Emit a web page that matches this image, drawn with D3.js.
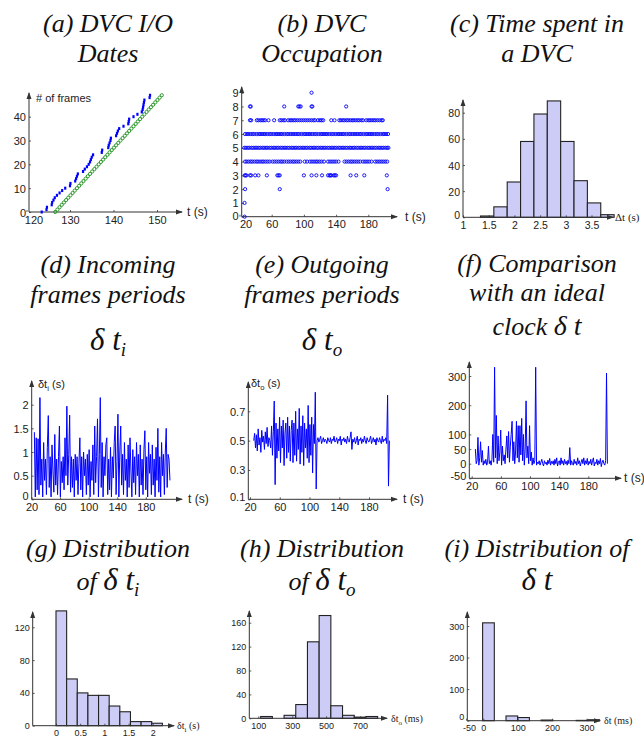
<!DOCTYPE html>
<html>
<head>
<meta charset="utf-8">
<script src="https://cdn.jsdelivr.net/npm/d3@7/dist/d3.min.js"></script>
<style>
  body { margin: 0; background: #fff; }
</style>
</head>
<body>
<div id="chart"></div>
<script>
// ---------- data ----------
// (a) frame dates: frame index = position in array
const incomingDates = [123.5, 124.6, 124.7, 125.8, 125.9, 126.2, 126.5, 127.0, 127.6, 128.2,
  128.9, 130.0, 130.1, 131.2, 131.4, 131.6, 131.8, 133.0, 133.4, 133.9,
  134.3, 134.6, 134.8, 135.0, 135.3, 137.3, 137.4, 138.8, 138.9, 139.1,
  139.3, 139.4, 140.6, 140.8, 141.0, 141.3, 142.3, 143.4, 143.5, 143.6,
  144.6, 145.5, 146.5, 146.7, 146.8, 146.9, 147.0, 147.1, 148.3, 148.4];
const outgoingDates = [126.6, 127.1, 127.6, 128.1, 128.6, 129.1, 129.6, 130.1, 130.6, 131.1,
  131.6, 132.1, 132.6, 133.1, 133.6, 134.1, 134.6, 135.1, 135.6, 136.1,
  136.6, 137.1, 137.6, 138.1, 138.6, 139.1, 139.6, 140.1, 140.6, 141.1,
  141.6, 142.1, 142.6, 143.1, 143.6, 144.1, 144.6, 145.1, 145.6, 146.1,
  146.6, 147.1, 147.6, 148.1, 148.6, 149.1, 149.6, 150.1, 150.6, 151.1];

// (b) occupation: times (s) at which each level was observed
const occLevels = [0, 1, 2, 3, 4, 5, 6, 7, 8, 9];
const occTimes = [
  [26.3],
  [26.3],
  [27, 70, 204],
  [26.5, 27.5, 28.5, 33, 34.5, 39.5, 43.5, 54, 67, 68.5, 70, 100, 109.5, 115.5, 122.5, 130, 132, 133, 134,
   137, 138.5, 140, 158, 165, 175, 203],
  [27, 29, 31.5, 34, 36, 38.5, 41, 43, 45.5, 48, 50, 52.5, 55, 57.5, 61, 63.5, 66, 68.5, 71, 73, 75.5,
   78.5, 81, 83.5, 86, 88, 90.5, 93, 95.5, 101, 104, 107.5, 110, 112.5, 115, 117, 119.5, 122, 125, 130,
   132.5, 135, 137.5, 140, 143, 150.5, 153, 155.5, 158, 160, 162.5, 165, 167.5, 170, 173.5, 176, 178.5,
   181, 184, 188.5, 191, 193.5, 196, 198.5, 201, 203.5],
  [26, 28, 30.5, 32.5, 35, 37, 39.5, 41.5, 44, 46, 48.5, 50.5, 53, 55, 57.5, 59.5, 62, 64, 66.5, 68.5,
   71, 73, 75.5, 77.5, 80, 82, 84.5, 86.5, 89, 91, 93.5, 95.5, 98, 100, 102.5, 104.5, 107, 109, 111.5,
   113.5, 116, 118, 120.5, 122.5, 125, 127, 129.5, 131.5, 134, 136, 138.5, 140.5, 143, 145, 147.5, 149.5,
   152, 154, 156.5, 158.5, 161, 163, 165.5, 167.5, 170, 172, 174.5, 176.5, 179, 181, 183.5, 185.5, 188,
   190, 192.5, 194.5, 197, 199, 201.5, 203.5, 205],
  [27, 29.5, 31.5, 34, 36.5, 38.5, 41, 43.5, 45.5, 48, 50.5, 52.5, 55, 57.5, 59.5, 62, 64.5, 66.5, 69,
   71.5, 73.5, 76, 78.5, 80.5, 83, 85.5, 87.5, 90, 92.5, 94.5, 97, 99.5, 101.5, 104, 106.5, 108.5, 111,
   113.5, 115.5, 118, 120.5, 122.5, 125, 127.5, 129.5, 132, 134.5, 136.5, 139, 141.5, 143.5, 146, 148.5,
   150.5, 153, 155.5, 157.5, 160, 162.5, 164.5, 167, 169.5, 171.5, 174, 176.5, 178.5, 181, 183.5, 185.5,
   188, 190.5, 192.5, 195, 197.5, 199.5, 202, 204.5],
  [33, 34.5, 41.5, 43.5, 46, 48, 50, 52, 56, 63, 70, 72, 74.5, 76.5, 80.5, 83, 85, 87.5, 89.5, 92, 94.5,
   97, 99.5, 102, 104.5, 107, 109.5, 112, 114, 117.5, 120, 122, 124, 134, 138, 144, 146, 148.5, 150.5,
   153, 155, 157.5, 160, 162, 164.5, 167, 169, 171.5, 173.5, 177.5, 180, 182, 184.5, 187, 189, 191.5,
   194, 196.5, 198],
  [33, 34, 75.5, 93, 94.5, 96, 109.5, 110.5, 152.5],
  [109.5]
];

// (c) time spent in a DVC histogram
const stayEdges = [1.34, 1.60, 1.86, 2.12, 2.38, 2.64, 2.90, 3.16, 3.42, 3.68, 3.94];
const stayCounts = [1, 8, 27, 58, 79, 89, 58, 28, 11, 2];

// (d) incoming periods (s), sampled from t = 24 s every 1.3 s
const inStart = 24, inStep = 1.3;
const inPeriods = [1.42, 0.05, 1.30, 0.20, 1.28, 0.10, 2.15, 0.30, 0.85, 0.05,
  1.20, 0.40, 0.85, 0.10, 1.10, 1.77, 0.25, 0.90, 0.05, 1.15,
  0.60, 0.15, 1.37, 0.30, 0.85, 0.10, 0.90, 1.55, 0.05, 0.80,
  0.35, 0.90, 0.20, 1.30, 0.50, 1.97, 0.30, 0.95, 1.78, 0.15,
  0.90, 0.25, 0.85, 0.05, 0.95, 0.40, 0.90, 0.10, 0.75, 1.30,
  0.20, 0.90, 0.05, 1.00, 0.50, 0.85, 0.10, 0.95, 0.30, 1.05,
  0.05, 0.80, 0.40, 1.15, 0.10, 1.55, 0.35, 0.90, 1.70, 0.05,
  0.95, 2.15, 0.25, 1.20, 0.05, 0.90, 0.50, 1.15, 1.30, 0.10,
  0.85, 0.20, 1.10, 0.05, 0.90, 0.45, 1.20, 1.55, 0.10, 0.80,
  1.80, 0.05, 1.00, 1.55, 0.30, 0.95, 0.10, 1.20, 0.40, 0.85,
  0.05, 1.15, 0.25, 1.30, 0.60, 0.05, 1.05, 0.35, 0.90, 0.10,
  1.20, 0.50, 0.95, 0.05, 1.15, 0.30, 0.85, 0.10, 1.05, 1.45,
  0.20, 0.90, 0.05, 1.20, 0.55, 0.95, 0.10, 1.15, 0.30, 0.85,
  0.05, 1.10, 0.40, 1.50, 0.15, 0.90, 0.05, 1.20, 0.50, 0.95,
  0.10, 1.00, 1.50, 0.25, 0.95, 0.85, 0.40];

// (e) outgoing periods (s), sampled from t = 25 s every 1.2 s
const outStart = 25, outStep = 1.2;
const outPeriods = [0.50, 0.55, 0.45, 0.54, 0.43, 0.58, 0.47, 0.52, 0.42, 0.57,
  0.49, 0.53, 0.44, 0.56, 0.48, 0.59, 0.46, 0.52, 0.50, 0.45,
  0.60, 0.40, 0.56, 0.77, 0.20, 0.62, 0.38, 0.58, 0.43, 0.66,
  0.35, 0.60, 0.45, 0.64, 0.33, 0.55, 0.62, 0.38, 0.66, 0.42,
  0.60, 0.36, 0.57, 0.64, 0.35, 0.62, 0.40, 0.70, 0.36, 0.58,
  0.44, 0.72, 0.34, 0.60, 0.42, 0.67, 0.33, 0.62, 0.45, 0.58,
  0.38, 0.74, 0.35, 0.61, 0.40, 0.66, 0.28, 0.61, 0.48, 0.83,
  0.17, 0.50, 0.52, 0.49, 0.51, 0.53, 0.48, 0.50, 0.52, 0.49,
  0.51, 0.50, 0.48, 0.52, 0.50, 0.49, 0.52, 0.48, 0.51, 0.50,
  0.53, 0.49, 0.50, 0.52, 0.48, 0.51, 0.50, 0.53, 0.47, 0.51,
  0.50, 0.52, 0.49, 0.51, 0.48, 0.53, 0.50, 0.49, 0.52, 0.56,
  0.44, 0.51, 0.49, 0.52, 0.48, 0.50, 0.53, 0.47, 0.51, 0.50,
  0.52, 0.48, 0.51, 0.49, 0.53, 0.50, 0.48, 0.52, 0.50, 0.49,
  0.51, 0.53, 0.48, 0.50, 0.52, 0.49, 0.51, 0.47, 0.52, 0.50,
  0.49, 0.52, 0.50, 0.48, 0.53, 0.49, 0.51, 0.50, 0.52, 0.48,
  0.81, 0.19, 0.50];

// (f) gap to an ideal clock (ms), sampled from t = 25 s every 1.2 s
const clkStart = 25, clkStep = 1.2;
const clockGap = [50, 0, 10, 90, -5, 20, 75, 5, 45, -5,
  10, 0, 15, -5, 5, 60, 0, 10, -5, 15,
  100, 5, 330, 20, 165, 0, 95, 10, 40, 115,
  -5, 60, 10, 30, 0, 50, 95, 20, 110, 5,
  60, 100, 145, 10, 75, 0, 40, 145, 20, 130,
  5, 130, 30, 155, 10, 100, -5, 50, 215, 20,
  60, 0, 130, 10, 40, -5, 20, 0, 10, 330,
  -5, 5, 0, 10, -5, 5, 15, 0, -8, 10,
  0, 5, -5, 12, 0, 18, -5, 8, 0, 10,
  -5, 15, 0, 20, -8, 5, 10, -5, 20, 0,
  10, -5, 15, 0, 8, -5, 12, 0, 55, -5,
  10, 0, -5, 15, 0, 8, -5, 20, 0, 10,
  -8, 5, 15, 0, 20, -5, 10, 0, 18, -5,
  8, 0, 15, -5, 10, 20, -8, 5, 0, 15,
  -5, 10, 0, 18, -10, 5, 12, 0, -5, 10,
  310, 0];

// (g) distribution of incoming periods (s)
const inHistEdges = [0, 0.22, 0.44, 0.66, 0.88, 1.10, 1.32, 1.54, 1.76, 1.98, 2.20];
const inHistCounts = [140, 57, 40, 37, 37, 24, 17, 5, 5, 3];

// (h) distribution of outgoing periods (ms)
const outHistEdges = [114, 183, 252, 321, 390, 459, 528, 597, 666, 735, 804];
const outHistCounts = [3, 0, 5, 23, 128, 172, 21, 5, 2, 3];

// (i) distribution of clock gap (ms)
const clkHistEdges = [-2, 32, 66, 100, 134, 168, 202, 236, 270, 304, 338];
const clkHistCounts = [310, 0, 15, 10, 0, 2, 0, 0, 1, 3];

// tick labels
const ticksA = { x: [120, 130, 140, 150], y: [0, 10, 20, 30, 40] };
const ticksB = { x: [20, 60, 100, 140, 180], y: [0, 1, 2, 3, 4, 5, 6, 7, 8, 9] };
const ticksC = { x: [1, 1.5, 2, 2.5, 3, 3.5], y: [0, 20, 40, 60, 80] };
const ticksD = { x: [20, 60, 100, 140, 180], y: [0, 0.5, 1, 1.5, 2] };
const ticksE = { x: [20, 60, 100, 140, 180], y: [0.1, 0.3, 0.5, 0.7] };
const ticksF = { x: [20, 60, 100, 140, 180], y: [-50, 0, 50, 100, 200, 300] };
const ticksG = { x: [0, 0.5, 1, 1.5, 2], y: [0, 40, 80, 120] };
const ticksH = { x: [100, 300, 500, 700], y: [0, 40, 80, 120, 160] };
const ticksI = { x: [-50, 0, 100, 200, 300], y: [0, 100, 200, 300] };

// ---------- drawing ----------
const BLUE = "#0000ff";
const BAR_FILL = "#ccccf7";
const AXIS = "#333";
const SANS = "'Liberation Sans', Arial, sans-serif";
const SERIF = "'Liberation Serif', 'Times New Roman', serif";

const svg = d3.select("#chart").append("svg")
  .attr("width", 644).attr("height", 742)
  .style("background", "#fff");

svg.append("defs").append("marker")
  .attr("id", "arrow")
  .attr("viewBox", "0 -3 7 6")
  .attr("refX", 6).attr("refY", 0)
  .attr("markerWidth", 7).attr("markerHeight", 6)
  .attr("markerUnits", "userSpaceOnUse")
  .attr("orient", "auto")
  .append("path").attr("d", "M0,-2.5L7,0L0,2.5Z").attr("fill", AXIS);

// axes with arrows, small inner ticks
function drawAxes(p) {
  const g = svg.append("g");
  g.append("line")
    .attr("x1", p.ox).attr("y1", p.oy).attr("x2", p.xEnd).attr("y2", p.oy)
    .attr("stroke", AXIS).attr("stroke-width", 1).attr("marker-end", "url(#arrow)");
  g.append("line")
    .attr("x1", p.ox).attr("y1", p.oy).attr("x2", p.ox).attr("y2", p.yTop)
    .attr("stroke", AXIS).attr("stroke-width", 1).attr("marker-end", "url(#arrow)");

  const xa = g.append("g").attr("transform", `translate(0,${p.oy})`)
    .call(d3.axisBottom(p.x).tickValues(p.ticks.x).tickSize(-2).tickPadding(4).tickFormat(d => String(d)));
  const ya = g.append("g").attr("transform", `translate(${p.ox},0)`)
    .call(d3.axisLeft(p.y).tickValues(p.ticks.y).tickSize(-2).tickPadding(3).tickFormat(d => String(d)));
  [xa, ya].forEach(a => {
    a.select(".domain").remove();
    a.selectAll(".tick line").attr("stroke", AXIS).attr("stroke-width", 0.8);
    a.selectAll(".tick text").attr("fill", "#222")
      .style("font-family", SANS).style("font-size", p.font + "px");
  });
  // nudge labels that would collide at the origin
  const nx = p.nudgeX || {}, ny = p.nudgeY || {};
  xa.selectAll(".tick text").attr("dx", d => nx[d] || 0);
  ya.selectAll(".tick text").attr("dy", d => (ny[d] !== undefined ? ny[d] : 0) + "px")
    .attr("y", 0).attr("dominant-baseline", "central");
  return g;
}

// label with delta-t and optional subscript
function deltaLabel(x, y, sub, unit, size, family) {
  const t = svg.append("text").attr("x", x).attr("y", y)
    .attr("fill", "#222").style("font-family", family).style("font-size", size + "px");
  t.append("tspan").text("δt");
  if (sub) t.append("tspan").attr("dy", size * 0.25).style("font-size", (size * 0.7) + "px").text(sub);
  t.append("tspan").attr("dy", sub ? -size * 0.25 : 0).text(" " + unit);
  return t;
}

function plainLabel(x, y, text, size, family) {
  svg.append("text").attr("x", x).attr("y", y).attr("fill", "#222")
    .style("font-family", family).style("font-size", size + "px").text(text);
}

// histogram bars
function drawBars(x, y, edges, counts) {
  const bins = counts.map((c, i) => ({ x0: edges[i], x1: edges[i + 1], c }))
    .filter(b => b.c > 0);
  svg.append("g").selectAll("rect").data(bins).enter().append("rect")
    .attr("x", d => x(d.x0))
    .attr("width", d => x(d.x1) - x(d.x0))
    .attr("y", d => y(d.c))
    .attr("height", d => y(0) - y(d.c))
    .attr("fill", BAR_FILL)
    .attr("stroke", "#222")
    .attr("stroke-width", 1.1);
}

// sampled line
function drawSeries(x, y, start, step, values) {
  const line = d3.line().x((d, i) => x(start + i * step)).y(d => y(d));
  svg.append("path").datum(values)
    .attr("d", line)
    .attr("fill", "none")
    .attr("stroke", BLUE)
    .attr("stroke-width", 1)
    .attr("stroke-linejoin", "miter");
}

// ---------- titles ----------
const titleRows = [
  { cx: 108, lines: ["(a) DVC I/O", "Dates"], ys: [32, 62] },
  { cx: 322, lines: ["(b) DVC", "Occupation"], ys: [32, 62] },
  { cx: 537, lines: ["(c) Time spent in", "a DVC"], ys: [32, 62] },
  { cx: 108, lines: ["(d) Incoming", "frames periods"], ys: [273, 303] },
  { cx: 322, lines: ["(e) Outgoing", "frames periods"], ys: [273, 303] },
  { cx: 537, lines: ["(f) Comparison", "with an ideal"], ys: [272, 301] },
  { cx: 108, lines: ["(g) Distribution"], ys: [557] },
  { cx: 322, lines: ["(h) Distribution"], ys: [557] },
  { cx: 537, lines: ["(i) Distribution of"], ys: [557] }
];
titleRows.forEach(r => {
  r.lines.forEach((s, i) => {
    svg.append("text").attr("x", r.cx).attr("y", r.ys[i])
      .attr("text-anchor", "middle").attr("fill", "#111")
      .style("font-family", SERIF).style("font-style", "italic").style("font-size", "26px")
      .text(s);
  });
});

function symbolTitle(cx, y, prefix, sub, size) {
  const t = svg.append("text").attr("x", cx).attr("y", y).attr("text-anchor", "middle")
    .attr("fill", "#111").style("font-family", SERIF).style("font-style", "italic").style("font-size", "26px");
  if (prefix) t.append("tspan").text(prefix);
  t.append("tspan").style("font-size", (size || 31) + "px").text("δ t");
  if (sub) t.append("tspan").attr("dy", 6).style("font-size", "19px").text(sub);
}
symbolTitle(108, 350, "", "i");
symbolTitle(322, 350, "", "o");
symbolTitle(537, 335, "clock ", "", 28);
symbolTitle(108, 590, "of ", "i");
symbolTitle(322, 590, "of ", "o");
symbolTitle(537, 590, "", "");

// ---------- (a) ----------
{
  const x = d3.scaleLinear().domain([120, 150]).range([26.5, 157]);
  const y = d3.scaleLinear().domain([0, 40]).range([212, 116.7]);
  drawAxes({ x, y, ox: 29, oy: 212, xEnd: 182, yTop: 93, ticks: ticksA, font: 11, nudgeX: { 120: 7 } });
  svg.append("g").selectAll("circle").data(outgoingDates).enter().append("circle")
    .attr("cx", d => x(d)).attr("cy", (d, i) => y(i)).attr("r", 1.6)
    .attr("fill", "none").attr("stroke", "#2e9a2e").attr("stroke-width", 1);
  svg.append("g").selectAll("rect").data(incomingDates).enter().append("rect")
    .attr("x", d => x(d) - 1.1).attr("y", (d, i) => y(i) - 1.5)
    .attr("width", 2.2).attr("height", 3).attr("fill", BLUE);
  plainLabel(36, 102, "# of frames", 11, SANS);
  plainLabel(187, 216, "t (s)", 12, SANS);
}

// ---------- (b) ----------
{
  const x = d3.scaleLinear().domain([20, 180]).range([239.5, 368.3]);
  const y = d3.scaleLinear().domain([0, 9]).range([216.7, 92.7]);
  drawAxes({ x, y, ox: 241.7, oy: 216.7, xEnd: 397, yTop: 87, ticks: ticksB, font: 11,
    nudgeX: { 20: 6 }, nudgeY: { 0: -1.5 } });
  const pts = [];
  occTimes.forEach((ts, k) => ts.forEach(t => pts.push({ t, v: occLevels[k] })));
  svg.append("g").selectAll("circle").data(pts).enter().append("circle")
    .attr("cx", d => x(d.t)).attr("cy", d => y(d.v)).attr("r", 1.6)
    .attr("fill", "none").attr("stroke", BLUE).attr("stroke-width", 0.9);
  plainLabel(405, 221, "t (s)", 12, SANS);
}

// ---------- (c) ----------
{
  const x = d3.scaleLinear().domain([1, 3.5]).range([463, 591.5]);
  const y = d3.scaleLinear().domain([0, 80]).range([217.3, 112.7]);
  drawBars(x, y, stayEdges, stayCounts);
  drawAxes({ x, y, ox: 463, oy: 217.3, xEnd: 613, yTop: 100, ticks: ticksC, font: 10.5, nudgeY: { 0: -3 } });
  plainLabel(615, 221, "Δt (s)", 11, SERIF);
}

// ---------- (d) ----------
{
  const x = d3.scaleLinear().domain([20, 180]).range([31.5, 145.8]);
  const y = d3.scaleLinear().domain([0, 2]).range([499.3, 404.7]);
  drawSeries(x, y, inStart, inStep, inPeriods);
  drawAxes({ x, y, ox: 31.7, oy: 499.3, xEnd: 182, yTop: 381, ticks: ticksD, font: 11, nudgeY: { 0: -4 } });
  deltaLabel(38, 388, "i", "(s)", 11, SANS);
  plainLabel(188, 503, "t (s)", 12, SANS);
}

// ---------- (e) ----------
{
  const x = d3.scaleLinear().domain([20, 180]).range([250, 369]);
  const y = d3.scaleLinear().domain([0.1, 0.7]).range([499.3, 411.3]);
  drawSeries(x, y, outStart, outStep, outPeriods);
  drawAxes({ x, y, ox: 248.3, oy: 499.3, xEnd: 397, yTop: 382, ticks: ticksE, font: 11, nudgeY: { 0.1: -3 } });
  deltaLabel(251, 387, "o", "(s)", 11, SANS);
  plainLabel(403, 503, "t (s)", 12, SANS);
}

// ---------- (f) ----------
{
  const x = d3.scaleLinear().domain([20, 180]).range([471.7, 588.3]);
  const y = d3.scaleLinear().domain([-50, 300]).range([478.3, 376]);
  drawSeries(x, y, clkStart, clkStep, clockGap);
  drawAxes({ x, y, ox: 469.3, oy: 478.3, xEnd: 621, yTop: 362, ticks: ticksF, font: 11, nudgeY: { "-50": -3 } });
  plainLabel(624, 482, "t (s)", 12, SANS);
}

// ---------- (g) ----------
{
  const x = d3.scaleLinear().domain([0, 2]).range([56, 152.7]);
  const y = d3.scaleLinear().domain([0, 120]).range([725.7, 627.3]);
  drawBars(x, y, inHistEdges, inHistCounts);
  drawAxes({ x, y, ox: 32.7, oy: 725.7, xEnd: 174, yTop: 612, ticks: ticksG, font: 9 });
  deltaLabel(177, 729, "i", "(s)", 10, SERIF);
}

// ---------- (h) ----------
{
  const x = d3.scaleLinear().domain([100, 700]).range([258.3, 360]);
  const y = d3.scaleLinear().domain([0, 160]).range([718.3, 622.7]);
  drawBars(x, y, outHistEdges, outHistCounts);
  drawAxes({ x, y, ox: 249.3, oy: 718.3, xEnd: 387, yTop: 611, ticks: ticksH, font: 9 });
  deltaLabel(391, 722, "o", "(ms)", 10, SERIF);
}

// ---------- (i) ----------
{
  const x = d3.scaleLinear().domain([0, 300]).range([483.3, 586.5]);
  const y = d3.scaleLinear().domain([0, 300]).range([720.7, 626]);
  drawBars(x, y, clkHistEdges, clkHistCounts);
  drawAxes({ x, y, ox: 467.3, oy: 720.7, xEnd: 600, yTop: 612, ticks: ticksI, font: 9,
    nudgeX: { "-50": 3 }, nudgeY: { 0: -4 } });
  deltaLabel(604, 724, "", "(ms)", 10, SERIF);
}
</script>
</body>
</html>
